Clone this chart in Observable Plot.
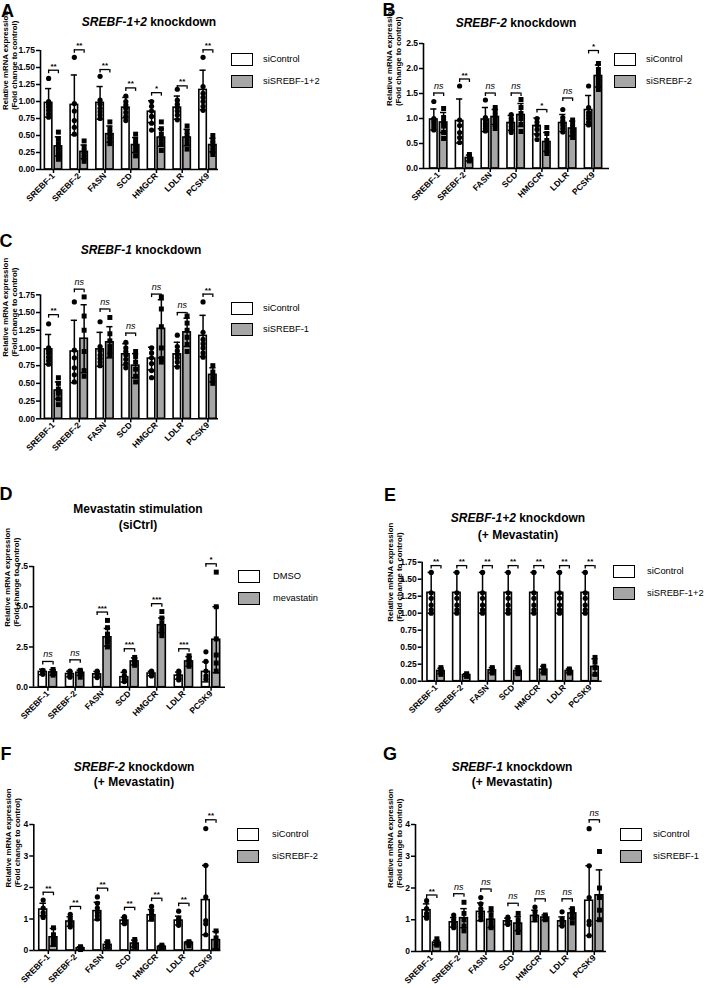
<!DOCTYPE html>
<html><head><meta charset="utf-8">
<script src="https://cdn.jsdelivr.net/npm/d3@7"></script>
<script src="https://cdn.jsdelivr.net/npm/@observablehq/plot@0.6"></script>
<style>
body{margin:0;background:#fff;}
#page{position:relative;width:707px;height:988px;overflow:hidden;font-family:"Liberation Sans",Arial,sans-serif;color:#000;background:#fff;}
#page svg{position:absolute;overflow:visible;}
.letter{position:absolute;font-weight:bold;font-size:18px;line-height:1;transform:translate(-50%,-50%);}
.title{position:absolute;font-weight:bold;font-size:12px;line-height:16px;text-align:center;transform:translate(-50%,-50%);white-space:nowrap;}
.box{position:absolute;box-sizing:border-box;width:22px;height:13px;border:1.6px solid #000;}
.ltxt{position:absolute;font-size:9.3px;line-height:1;transform:translateY(-50%);white-space:nowrap;}
</style></head><body><div id="page"></div>
<script>
const genes = ["SREBF-1","SREBF-2","FASN","SCD","HMGCR","LDLR","PCSK9"];
const ylabel = "Relative mRNA expression\n(Fold change to control)";

// Panels A–C: shared siControl
const ctrlABC_mean = [0.98, 0.95, 0.98, 0.91, 0.85, 0.91, 1.17];
const ctrlABC_sd   = [0.21, 0.44, 0.24, 0.15, 0.16, 0.17, 0.29];
const ctrlABC_pts  = [
  [1.34, 1.00, 0.96, 0.92, 0.87, 0.82, 0.77],
  [1.65, 0.97, 0.86, 0.72, 0.62, 0.52],
  [1.37, 1.02, 0.96, 0.90, 0.85, 0.80, 0.75],
  [1.08, 1.00, 0.95, 0.90, 0.84, 0.78, 0.72],
  [1.00, 0.93, 0.86, 0.78, 0.68, 0.58],
  [1.18, 1.02, 0.96, 0.91, 0.86, 0.80, 0.73],
  [1.65, 1.22, 1.12, 1.06, 1.00, 0.93, 0.87]
];

// A: siSREBF-1+2
const trtA_mean = [0.34, 0.26, 0.52, 0.36, 0.47, 0.47, 0.36];
const trtA_sd   = [0.14, 0.10, 0.12, 0.11, 0.13, 0.12, 0.10];
const trtA_pts  = [
  [0.55, 0.45, 0.38, 0.32, 0.26, 0.20, 0.15],
  [0.42, 0.33, 0.27, 0.22, 0.17, 0.12],
  [0.70, 0.60, 0.54, 0.49, 0.44, 0.38],
  [0.52, 0.43, 0.38, 0.33, 0.27, 0.20],
  [0.70, 0.60, 0.52, 0.45, 0.38, 0.28],
  [0.64, 0.56, 0.50, 0.45, 0.38, 0.30],
  [0.50, 0.43, 0.38, 0.33, 0.27, 0.22]
];
const sigA = ["**","**","**","**","*","**","**"];
const brA  = [1.46, 1.76, 1.47, 1.20, 1.13, 1.23, 1.76];

// B: siSREBF-2
const trtB_mean = [0.92, 0.21, 1.03, 1.07, 0.53, 0.80, 1.85];
const trtB_sd   = [0.20, 0.06, 0.15, 0.23, 0.19, 0.15, 0.22];
const trtB_pts  = [
  [1.20, 1.02, 0.93, 0.85, 0.72, 0.60],
  [0.28, 0.23, 0.19, 0.15],
  [1.22, 1.15, 1.06, 0.98, 0.88, 0.80],
  [1.38, 1.22, 1.10, 1.00, 0.88, 0.74],
  [0.82, 0.70, 0.56, 0.46, 0.36, 0.30],
  [0.97, 0.90, 0.83, 0.76, 0.70, 0.62],
  [2.10, 1.98, 1.88, 1.78, 1.68, 1.58]
];
const sigB = ["ns","**","ns","ns","*","ns","*"];
const brB  = [1.51, 1.79, 1.51, 1.51, 1.18, 1.41, 2.36];

// C: siSREBF-1
const trtC_mean = [0.40, 1.13, 1.08, 0.75, 1.27, 1.22, 0.62];
const trtC_sd   = [0.12, 0.48, 0.22, 0.17, 0.41, 0.20, 0.10];
const trtC_pts  = [
  [0.58, 0.50, 0.42, 0.36, 0.28, 0.20],
  [1.72, 1.45, 1.25, 0.95, 0.68, 0.60],
  [1.43, 1.20, 1.10, 1.02, 0.95, 0.90],
  [0.95, 0.88, 0.80, 0.70, 0.60, 0.52],
  [1.72, 1.55, 1.30, 1.00, 0.85, 0.80],
  [1.45, 1.35, 1.25, 1.15, 1.05, 0.95],
  [0.75, 0.66, 0.60, 0.55, 0.50]
];
const sigC = ["**","ns","ns","ns","ns","ns","**"];
const brC  = [1.47, 1.83, 1.55, 1.21, 1.76, 1.50, 1.76];

// D: DMSO vs mevastatin
const ctrlD_mean = [0.95, 0.82, 0.80, 0.62, 0.85, 0.72, 0.95];
const ctrlD_sd   = [0.17, 0.17, 0.18, 0.30, 0.14, 0.22, 0.62];
const ctrlD_pts  = [
  [1.05, 1.00, 0.90, 0.80],
  [1.00, 0.88, 0.75, 0.62],
  [1.00, 0.88, 0.72, 0.60],
  [0.98, 0.72, 0.50, 0.35],
  [1.00, 0.92, 0.80, 0.70],
  [1.00, 0.80, 0.60, 0.45],
  [2.20, 1.60, 1.00, 0.70, 0.50]
];
const trtD_mean = [0.92, 0.90, 3.10, 1.60, 3.85, 1.60, 2.95];
const trtD_sd   = [0.17, 0.16, 0.55, 0.22, 0.45, 0.30, 2.05];
const trtD_pts  = [
  [1.10, 0.95, 0.85, 0.75],
  [1.05, 0.95, 0.82, 0.62],
  [4.15, 3.70, 3.30, 3.00, 2.80, 2.50],
  [1.85, 1.72, 1.60, 1.48, 1.36],
  [4.70, 4.30, 4.00, 3.70, 3.45, 3.20],
  [1.95, 1.75, 1.60, 1.45, 1.30],
  [7.15, 5.00, 3.00, 2.00, 1.50, 1.00]
];
const sigD = ["ns","ns","***","***","***","***","*"];
const brD  = [1.60, 1.70, 4.67, 2.39, 5.19, 2.39, 7.67];

// E: siSREBF-1+2 (+ Mevastatin)
const ctrlE_mean = [1.30, 1.30, 1.30, 1.30, 1.30, 1.30, 1.30];
const ctrlE_sd   = [0.30, 0.30, 0.30, 0.30, 0.30, 0.30, 0.30];
const ctrlE_pts  = [
  [1.60, 1.30, 1.22, 1.12, 1.05, 1.00],
  [1.60, 1.30, 1.22, 1.12, 1.05, 1.00],
  [1.60, 1.30, 1.22, 1.12, 1.05, 1.00],
  [1.60, 1.30, 1.22, 1.12, 1.05, 1.00],
  [1.60, 1.30, 1.22, 1.12, 1.05, 1.00],
  [1.60, 1.30, 1.22, 1.12, 1.05, 1.00],
  [1.60, 1.30, 1.22, 1.12, 1.05, 1.00]
];
const trtE_mean = [0.15, 0.09, 0.16, 0.15, 0.17, 0.15, 0.21];
const trtE_sd   = [0.04, 0.02, 0.04, 0.04, 0.05, 0.03, 0.12];
const trtE_pts  = [
  [0.20, 0.17, 0.13, 0.10],
  [0.11, 0.09, 0.07],
  [0.20, 0.16, 0.12],
  [0.20, 0.15, 0.11],
  [0.22, 0.17, 0.12],
  [0.18, 0.15, 0.12],
  [0.35, 0.28, 0.20, 0.10]
];
const sigE = ["**","**","**","**","**","**","**"];
const brE  = [1.70, 1.70, 1.70, 1.70, 1.70, 1.70, 1.70];

// F & G: shared siControl (+ Mevastatin)
const ctrlFG_mean = [1.30, 0.92, 1.25, 0.95, 1.12, 0.95, 1.60];
const ctrlFG_sd   = [0.20, 0.15, 0.28, 0.10, 0.18, 0.14, 1.10];
const ctrlFG_pts  = [
  [1.60, 1.35, 1.20, 1.10, 1.05],
  [1.15, 1.00, 0.90, 0.82, 0.75],
  [1.70, 1.50, 1.35, 1.20, 1.10, 1.00],
  [1.08, 1.00, 0.95, 0.90, 0.85],
  [1.40, 1.25, 1.15, 1.08, 1.00],
  [1.25, 1.02, 0.95, 0.88, 0.80],
  [3.87, 2.70, 1.70, 0.95, 0.85, 0.50]
];
// F: siSREBF-2
const trtF_mean = [0.42, 0.07, 0.18, 0.22, 0.12, 0.25, 0.33];
const trtF_sd   = [0.28, 0.05, 0.09, 0.11, 0.04, 0.04, 0.27];
const trtF_pts  = [
  [0.72, 0.50, 0.35, 0.20],
  [0.12, 0.07, 0.03],
  [0.28, 0.20, 0.12],
  [0.35, 0.22, 0.12],
  [0.17, 0.12, 0.08],
  [0.28, 0.22, 0.15],
  [0.62, 0.40, 0.25, 0.10]
];
const sigF = ["**","**","**","**","**","**","**"];
const brF  = [1.85, 1.40, 1.98, 1.37, 1.66, 1.50, 4.15];
// G: siSREBF-1
const trtG_mean = [0.28, 1.05, 1.00, 0.88, 1.07, 1.20, 1.77];
const trtG_sd   = [0.07, 0.30, 0.25, 0.22, 0.08, 0.15, 0.80];
const trtG_pts  = [
  [0.40, 0.30, 0.22, 0.20],
  [1.55, 1.20, 1.00, 0.80, 0.65],
  [1.35, 1.15, 1.00, 0.85, 0.75],
  [1.20, 1.00, 0.85, 0.70, 0.60],
  [1.15, 1.08, 1.00],
  [1.35, 1.30, 1.20, 1.05, 0.90],
  [3.15, 2.00, 1.70, 1.30, 1.00]
];
const sigG = ["**","ns","ns","ns","ns","ns","ns"];
const brG  = [1.78, 1.82, 1.97, 1.52, 1.66, 1.66, 4.15];

const ticks175 = [0, 0.25, 0.5, 0.75, 1, 1.25, 1.5, 1.75];
const ticks25 = [0, 0.5, 1, 1.5, 2, 2.5];
const ticks75 = [0, 2.5, 5, 7.5];
const ticks4 = [0, 1, 2, 3, 4];

const GRAY = "#a6a6a6";
const FONT = "'Liberation Sans', Arial, sans-serif";
const page = document.getElementById("page");

function panel(o) {
  const OFF = 0.19, HALF = 0.145, CAP = 0.12;
  const idx = genes.map((g, i) => i);
  const ctrl = idx.map(i => ({c: i - OFF, m: o.cm[i], s: o.cs[i]}));
  const trt = idx.map(i => ({c: i + OFF, m: o.tm[i], s: o.ts[i]}));
  const bars = ctrl.concat(trt);
  const pc = o.cp.flatMap((a, i) => a.map(v => ({c: i - OFF, v})));
  const pt = o.tp.flatMap((a, i) => a.map(v => ({c: i + OFF, v})));
  const leg = o.ymax / (o.h - o.mt - o.mb) * 3.5;
  const brk = idx.map(i => ({i, y: o.br[i], s: o.sig[i]}));
  const svg = Plot.plot({
    width: o.w, height: o.h,
    marginLeft: o.ml, marginRight: o.mr, marginTop: o.mt, marginBottom: o.mb,
    x: {type: "linear", domain: o.xdom},
    y: {type: "linear", domain: [0, o.ymax]},
    style: `font-family:${FONT};font-size:8.5px;font-weight:bold;color:#000;background:transparent;overflow:visible;`,
    marks: [
      Plot.rectY(ctrl, {x1: d => d.c - HALF, x2: d => d.c + HALF, y1: 0, y2: "m", fill: "white", stroke: "black", strokeWidth: 1.6}),
      Plot.rectY(trt, {x1: d => d.c - HALF, x2: d => d.c + HALF, y1: 0, y2: "m", fill: GRAY, stroke: "black", strokeWidth: 1.6}),
      Plot.ruleX(bars, {x: "c", y1: d => d.m - d.s, y2: d => d.m + d.s, stroke: "black", strokeWidth: 1.5}),
      Plot.ruleY(bars, {y: d => d.m + d.s, x1: d => d.c - CAP, x2: d => d.c + CAP, stroke: "black", strokeWidth: 1.5}),
      Plot.ruleY(bars, {y: d => d.m - d.s, x1: d => d.c - CAP, x2: d => d.c + CAP, stroke: "black", strokeWidth: 1.5}),
      Plot.dot(pc, {x: "c", y: "v", r: 2.6, fill: "black"}),
      Plot.dot(pt, {x: "c", y: "v", r: 2.8, symbol: "square", fill: "black"}),
      Plot.ruleY(brk, {y: "y", x1: d => d.i - OFF, x2: d => d.i + OFF, stroke: "black", strokeWidth: 1.3}),
      Plot.ruleX(brk, {x: d => d.i - OFF, y1: d => d.y - leg, y2: "y", stroke: "black", strokeWidth: 1.3}),
      Plot.ruleX(brk, {x: d => d.i + OFF, y1: d => d.y - leg, y2: "y", stroke: "black", strokeWidth: 1.3}),
      Plot.text(brk.filter(d => d.s === "ns"), {x: "i", y: "y", text: "s", dy: -7, fontStyle: "italic", fontWeight: "normal", fontSize: 9}),
      Plot.text(brk.filter(d => d.s !== "ns"), {x: "i", y: "y", text: "s", dy: -4, fontWeight: "bold", fontSize: 8}),
      Plot.ruleY([0], {stroke: "black", strokeWidth: 1.6}),
      Plot.ruleX([o.xdom[0]], {stroke: "black", strokeWidth: 1.6}),
      Plot.axisY({ticks: o.yticks, tickFormat: o.yfmt, tickSize: 4, tickPadding: 1.5, strokeWidth: 1.5, label: null, fontSize: 8.5, fontWeight: "bold"}),
      Plot.axisX({ticks: idx, tickFormat: i => genes[i], tickRotate: -45, tickSize: 4, tickPadding: 1, strokeWidth: 1.5, label: null, fontSize: 8.5, fontWeight: "bold"}),
      Plot.text([ylabel], {text: d => d, frameAnchor: "left", dx: o.ylx, rotate: -90, fontSize: 7.8, fontWeight: "bold", lineHeight: 1.15})
    ]
  });
  svg.style.left = o.left + "px";
  svg.style.top = o.top + "px";
  page.appendChild(svg);
}

function addText(cls, html, x, y) {
  const d = document.createElement("div");
  d.className = cls; d.innerHTML = html;
  d.style.left = x + "px"; d.style.top = y + "px";
  if (cls === "title" && arguments[4]) d.style.lineHeight = arguments[4] + "px";
  page.appendChild(d);
}
function legend(x, y1, y2, tx, labels) {
  [[y1, "#fff", labels[0]], [y2, GRAY, labels[1]]].forEach(([y, f, t]) => {
    const b = document.createElement("div");
    b.className = "box"; b.style.left = x + "px"; b.style.top = y + "px"; b.style.background = f;
    page.appendChild(b);
    const s = document.createElement("div");
    s.className = "ltxt"; s.textContent = t; s.style.left = tx + "px"; s.style.top = (y + 6.5) + "px";
    page.appendChild(s);
  });
}

const f2 = d3.format(".2f"), f1 = d3.format(".1f"), f0 = d3.format("d");

panel({left: 0, top: 30, w: 225, h: 190, ml: 40, mr: 7, mt: 20, mb: 51, xdom: [-0.505, 6.41], ymax: 1.75, yticks: ticks175, yfmt: f2, ylx: -30.5,
  cm: ctrlABC_mean, cs: ctrlABC_sd, cp: ctrlABC_pts, tm: trtA_mean, ts: trtA_sd, tp: trtA_pts, sig: sigA, br: brA});
panel({left: 355, top: 30, w: 260, h: 190, ml: 68, mr: 6, mt: 13, mb: 52, xdom: [-0.59, 6.62], ymax: 2.5, yticks: ticks25, yfmt: f1, ylx: -29.5,
  cm: ctrlABC_mean, cs: ctrlABC_sd, cp: ctrlABC_pts, tm: trtB_mean, ts: trtB_sd, tp: trtB_pts, sig: sigB, br: brB});
panel({left: 0, top: 262, w: 225, h: 208, ml: 40, mr: 7, mt: 32.3, mb: 51.7, xdom: [-0.505, 6.41], ymax: 1.75, yticks: ticks175, yfmt: f2, ylx: -30.5,
  cm: ctrlABC_mean, cs: ctrlABC_sd, cp: ctrlABC_pts, tm: trtC_mean, ts: trtC_sd, tp: trtC_pts, sig: sigC, br: brC});
panel({left: 0, top: 540, w: 232, h: 200, ml: 33, mr: 7, mt: 26, mb: 53.3, xdom: [-0.53, 6.53], ymax: 7.5, yticks: ticks75, yfmt: f1, ylx: -21.5,
  cm: ctrlD_mean, cs: ctrlD_sd, cp: ctrlD_pts, tm: trtD_mean, ts: trtD_sd, tp: trtD_pts, sig: sigD, br: brD});
panel({left: 355, top: 540, w: 255, h: 200, ml: 66.7, mr: 8.3, mt: 21.7, mb: 59.3, xdom: [-0.54, 6.47], ymax: 1.75, yticks: ticks175, yfmt: f2, ylx: -28,
  cm: ctrlE_mean, cs: ctrlE_sd, cp: ctrlE_pts, tm: trtE_mean, ts: trtE_sd, tp: trtE_pts, sig: sigE, br: brE});
panel({left: 0, top: 795, w: 228, h: 193, ml: 33.3, mr: 7.7, mt: 29, mb: 38, xdom: [-0.536, 6.365], ymax: 4, yticks: ticks4, yfmt: f0, ylx: -21.6,
  cm: ctrlFG_mean, cs: ctrlFG_sd, cp: ctrlFG_pts, tm: trtF_mean, ts: trtF_sd, tp: trtF_pts, sig: sigF, br: brF});
panel({left: 355, top: 795, w: 258, h: 193, ml: 60, mr: 7, mt: 29, mb: 37, xdom: [-0.6, 6.45], ymax: 4, yticks: ticks4, yfmt: f0, ylx: -21.3,
  cm: ctrlFG_mean, cs: ctrlFG_sd, cp: ctrlFG_pts, tm: trtG_mean, ts: trtG_sd, tp: trtG_pts, sig: sigG, br: brG});

// panel letters
addText("letter", "A", 7.5, 11);
addText("letter", "B", 389, 10);
addText("letter", "C", 6, 241);
addText("letter", "D", 6, 494);
addText("letter", "E", 390, 495);
addText("letter", "F", 6, 754);
addText("letter", "G", 390, 754);

// titles
addText("title", "<i>SREBF-1+2</i> knockdown", 149, 22);
addText("title", "<i>SREBF-2</i> knockdown", 516, 23);
addText("title", "<i>SREBF-1</i> knockdown", 141, 250);
addText("title", "Mevastatin stimulation<br>(siCtrl)", 138, 517, 16);
addText("title", "<i>SREBF-1+2</i> knockdown<br>(+ Mevastatin)", 518, 526, 16.5);
addText("title", "<i>SREBF-2</i> knockdown<br>(+ Mevastatin)", 134, 774, 14.5);
addText("title", "<i>SREBF-1</i> knockdown<br>(+ Mevastatin)", 512, 774, 14.5);

// legends
legend(231, 53, 75, 263, ["siControl", "siSREBF-1+2"]);
legend(614, 53, 75, 646, ["siControl", "siSREBF-2"]);
legend(231, 302, 323, 263, ["siControl", "siSREBF-1"]);
legend(238, 570, 592, 273, ["DMSO", "mevastatin"]);
legend(613, 565, 587, 647, ["siControl", "siSREBF-1+2"]);
legend(237, 828, 850, 272, ["siControl", "siSREBF-2"]);
legend(620, 828, 850, 653, ["siControl", "siSREBF-1"]);
</script></body></html>
